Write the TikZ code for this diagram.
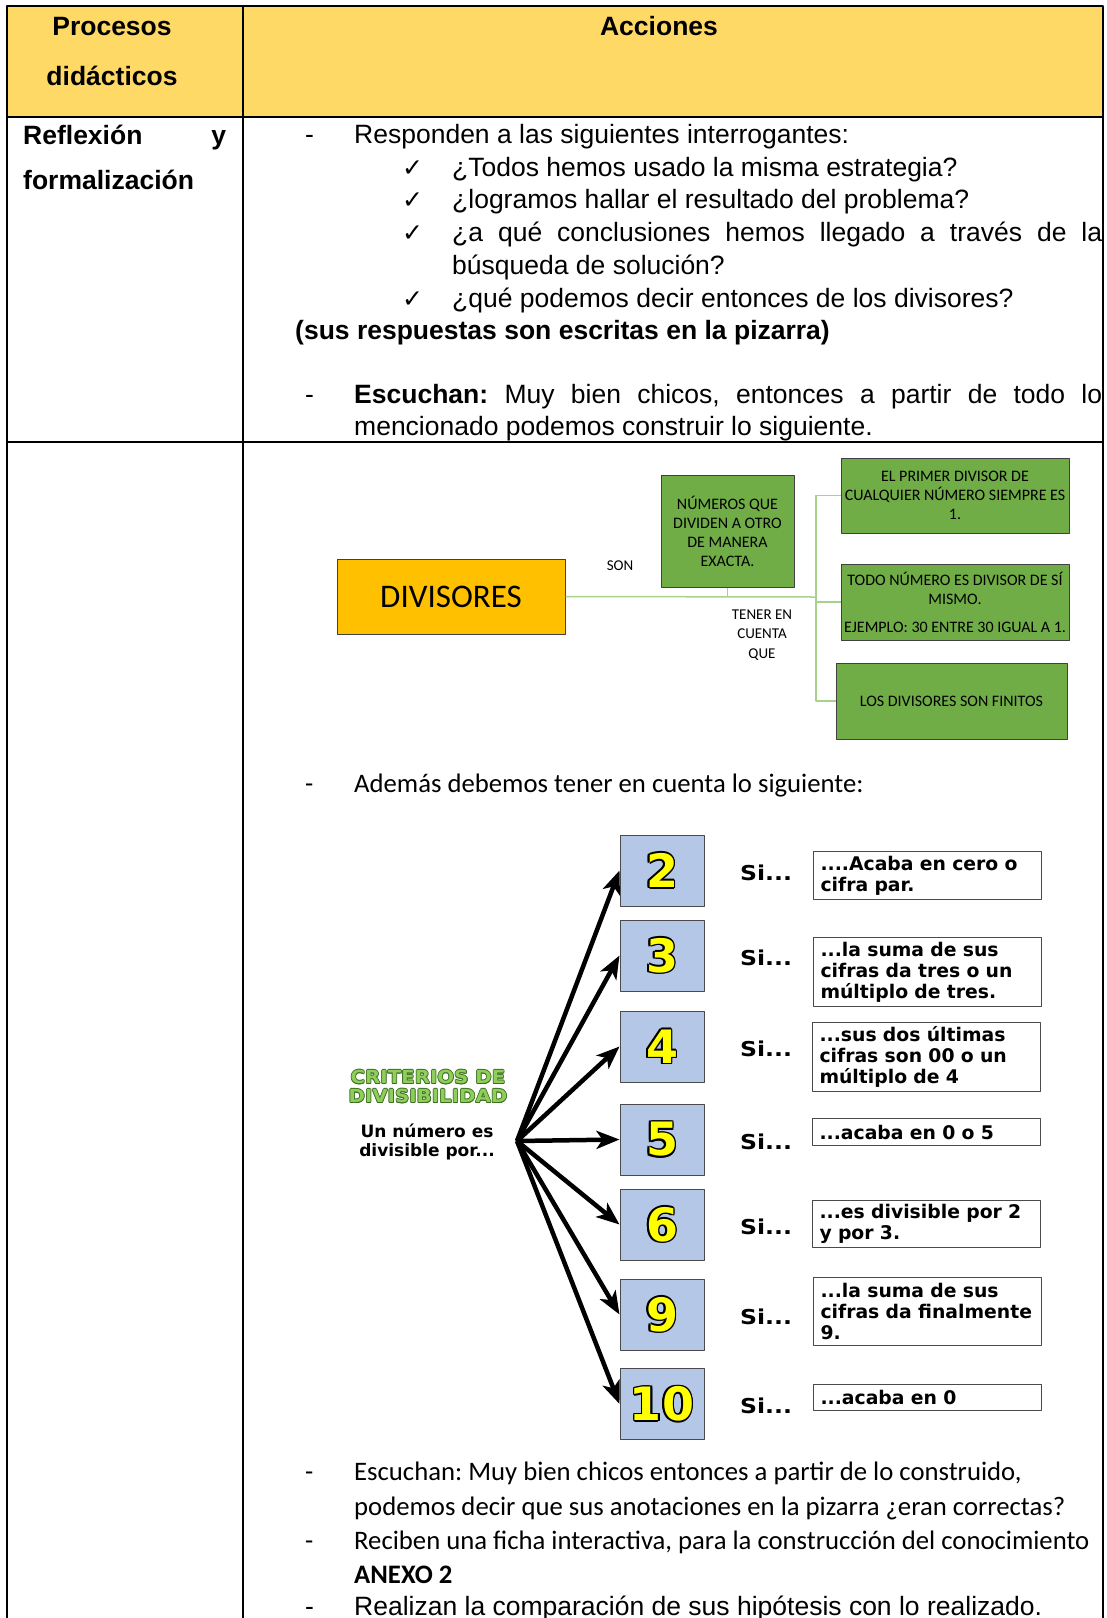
\documentclass[tikz,border=0pt]{standalone}
\usepackage{fontspec}
\usepackage{graphicx}
\setmainfont{Liberation Sans}
\newfontfamily\calfont{Carlito}
\newfontfamily\dvfont{DejaVu Sans}
\usetikzlibrary{arrows.meta}
\frenchspacing

\definecolor{headfill}{HTML}{FFD966}
\definecolor{divorange}{HTML}{FFC000}
\definecolor{mapgreen}{HTML}{70AD47}
\definecolor{linkgreen}{HTML}{A9D18E}
\definecolor{boxedge}{HTML}{404040}
\definecolor{numblue}{HTML}{B4C7E7}
\definecolor{numedge}{HTML}{4A4A4A}
\definecolor{crifill}{HTML}{8DCF5A}
\definecolor{criedge}{HTML}{3F6E22}
\definecolor{digityellow}{HTML}{FFFF00}

% text with a ring of copies round it
\newdimen\ringw
\newcommand\ringcopy[3]{\rlap{\kern#1\raisebox{#2}{#3}}}
\newcommand\outlined[4]{{\ringw=#1\relax\color{#2}%
  \ringcopy{\ringw}{0pt}{#4}\ringcopy{-\ringw}{0pt}{#4}%
  \ringcopy{0pt}{\ringw}{#4}\ringcopy{0pt}{-\ringw}{#4}%
  \ringcopy{.7\ringw}{.7\ringw}{#4}\ringcopy{-.7\ringw}{.7\ringw}{#4}%
  \ringcopy{.7\ringw}{-.7\ringw}{#4}\ringcopy{-.7\ringw}{-.7\ringw}{#4}%
  \textcolor{#3}{#4}}}

\begin{document}
\begin{tikzpicture}[x=1pt,y=-1pt,line join=round,
  rule/.style={line width=1.6pt},
  arial/.style={inner sep=0pt,font=\fontsize{26.5}{32}\selectfont},
  arialb/.style={inner sep=0pt,font=\fontsize{26.5}{32}\selectfont\bfseries},
  tick/.style={inner sep=0pt,anchor=base west,font=\dvfont\fontsize{25}{28}\selectfont},
  calibri/.style={inner sep=0pt,anchor=base west,font=\calfont\fontsize{26.7}{32}\selectfont},
  mapbox/.style={draw=boxedge,line width=1pt,fill=mapgreen,inner sep=1pt,align=center,
    font=\calfont\fontsize{16}{19}\selectfont},
  maplabel/.style={inner sep=0pt,align=center,font=\calfont\fontsize{15}{19.5}\selectfont},
  link/.style={draw=linkgreen,line width=1.5pt},
  numbox/.style={draw=numedge,line width=1pt,fill=numblue,minimum width=84pt,minimum height=71pt,
    inner sep=0pt,font=\dvfont\bfseries\fontsize{46}{50}\selectfont},
  fanarrow/.style={line width=4.5pt,-{Stealth[length=23pt,width=18pt,inset=6pt]}},
  sinode/.style={inner sep=0pt,xscale=1.15,font=\dvfont\bfseries\fontsize{20.5}{24}\selectfont},
  rulebox/.style={draw=numedge,line width=1pt,anchor=north west,minimum width=228pt,text width=214pt,
    inner xsep=7pt,inner ysep=2pt,align=left,font=\dvfont\bfseries\fontsize{18.8}{21}\selectfont}]
\useasboundingbox (0,0) rectangle (1107,1618);

% table
\fill[headfill] (7,6) rectangle (1103,117);
\draw[rule] (7,1630) -- (7,6) -- (1103,6) -- (1103,1630);
\draw[rule] (7,117) -- (1103,117);
\draw[rule] (243,6) -- (243,1630);
\draw[line width=2.6pt] (7,442) -- (1103,442);

\node[arialb,anchor=base] (proc) at (112,35.5) {Procesos};
\node[arialb,anchor=base] (didac) at (112,85.5) {didácticos};
\node[arialb,anchor=base] (acc) at (659,35.5) {Acciones};

% second row
\node[arialb,anchor=base west] (refl) at (23,144) {\makebox[203pt][s]{Reflexión y}};
\node[arialb,anchor=base west] (formal) at (23,189.5) {formalización};

\node[arial,anchor=base west] (d1) at (305,143) {-};
\node[arial,anchor=base west] (q0) at (354,143) {Responden a las siguientes interrogantes:};
\node[tick] (t1) at (402,176) {✓};
\node[arial,anchor=base west] (q1) at (452,176) {¿Todos hemos usado la misma estrategia?};
\node[tick] (t2) at (402,208) {✓};
\node[arial,anchor=base west] (q2) at (452,208) {¿logramos hallar el resultado del problema?};
\node[tick] (t3) at (402,241) {✓};
\node[arial,anchor=base west] (q3) at (452,241) {\makebox[650pt][s]{¿a qué conclusiones hemos llegado a través de la}};
\node[arial,anchor=base west] (q3b) at (452,274) {búsqueda de solución?};
\node[tick] (t4) at (402,307) {✓};
\node[arial,anchor=base west] (q4) at (452,307) {¿qué podemos decir entonces de los divisores?};
\node[arialb,anchor=base west] (pizarra) at (295,339) {(sus respuestas son escritas en la pizarra)};
\node[arial,anchor=base west] (d2) at (305,403) {-};
\node[arial,anchor=base west] (esc1) at (354,403) {\makebox[748pt][s]{\textbf{Escuchan:} Muy bien chicos, entonces a partir de todo lo}};
\node[arial,anchor=base west] (esc2) at (354,435) {mencionado podemos construir lo siguiente.};

% concept map
\node[draw=boxedge,line width=1pt,fill=divorange,minimum width=228pt,minimum height=75pt,inner sep=0pt,
  font=\calfont\fontsize{33}{36}\selectfont] (div) at (451,596.5) {DIVISORES};
\node[mapbox,minimum width=133pt,minimum height=112pt] (defs) at (727.5,531)
  {NÚMEROS QUE\\DIVIDEN A OTRO\\DE MANERA\\EXACTA.};
\node[mapbox,minimum width=228pt,minimum height=75pt] (first) at (955,495.5)
  {EL PRIMER DIVISOR DE\\CUALQUIER NÚMERO SIEMPRE ES\\1.};
\node[mapbox,minimum width=228pt,minimum height=76pt] (self) at (955,602)
  {TODO NÚMERO ES DIVISOR DE SÍ\\MISMO.\\[9pt]EJEMPLO: 30 ENTRE 30 IGUAL A 1.};
\node[mapbox,minimum width=231pt,minimum height=76pt] (finite) at (951.5,701)
  {LOS DIVISORES SON FINITOS};
\coordinate (trunk) at (816,597);
\draw[link] (div.east) -- (trunk);
\draw[link] (defs.south) -- (defs.south |- trunk);
\draw[link] (first.west) -| (trunk);
\draw[link] (self.west) -| (trunk);
\draw[link] (finite.west) -| (trunk);
\node[maplabel] (son) at (620,566) {SON};
\node[maplabel] (tener) at (762,635) {TENER EN\\CUENTA\\QUE};

\node[calibri] (d3) at (305,792.5) {-};
\node[calibri] (ademas) at (354,792.5) {Además debemos tener en cuenta lo siguiente:};

% divisibility criteria
\node[inner sep=0pt,align=center,xscale=1.1,font=\dvfont\bfseries\fontsize{18}{19}\selectfont] (crit) at (428,1086.5)
  {\outlined{.7pt}{criedge}{crifill}{CRITERIOS DE}\\\outlined{.7pt}{criedge}{crifill}{DIVISIBILIDAD}};
\node[inner sep=0pt,align=center,font=\dvfont\bfseries\fontsize{17}{18.5}\selectfont] (unnum) at (427,1142)
  {Un número es\\divisible por...};
\coordinate (fan) at (517,1141);
\foreach \n/\y in {2/870.5,3/955.5,4/1046.5,5/1139.5,6/1224.5,9/1314.5,10/1404}{
  \node[numbox] (n\n) at (662,\y) {\outlined{1.6pt}{black}{digityellow}{\n}};
  \draw[fanarrow] (fan) -- (n\n.west);
  \node[sinode] (si\n) at (766,\y+2) {Si...};
}
\node[rulebox,minimum height=48pt] (r2) at (813,851) {....Acaba en cero o\\cifra par.};
\node[rulebox,minimum height=69pt] (r3) at (813,937) {...la suma de sus\\cifras da tres o un\\múltiplo de tres.};
\node[rulebox,minimum height=69pt] (r4) at (812,1022) {...sus dos últimas\\cifras son 00 o un\\múltiplo de 4};
\node[rulebox,minimum height=27pt] (r5) at (812,1118) {...acaba en 0 o 5};
\node[rulebox,minimum height=47pt] (r6) at (812,1200) {...es divisible por 2\\y por 3.};
\node[rulebox,minimum height=68pt] (r9) at (813,1277) {...la suma de sus\\cifras da finalmente\\9.};
\node[rulebox,minimum height=26pt] (r10) at (813,1384) {...acaba en 0};

% closing lines
\node[calibri] (d4) at (305,1480.5) {-};
\node[calibri] (fin1) at (354,1480.5) {Escuchan: Muy bien chicos entonces a partir de lo construido,};
\node[calibri] (fin2) at (354,1515.5) {podemos decir que sus anotaciones en la pizarra ¿eran correctas?};
\node[calibri] (d5) at (305,1549.5) {-};
\node[calibri] (fin3) at (354,1549.5) {Reciben una ficha interactiva, para la construcción del conocimiento};
\node[calibri,font=\calfont\bfseries\fontsize{26.7}{32}\selectfont] (anexo) at (354,1583.5) {ANEXO 2};
\node[arial,anchor=base west] (d6) at (305,1615) {-};
\node[arial,anchor=base west] (fin4) at (354,1615) {Realizan la comparación de sus hipótesis con lo realizado.};
\end{tikzpicture}
\end{document}
